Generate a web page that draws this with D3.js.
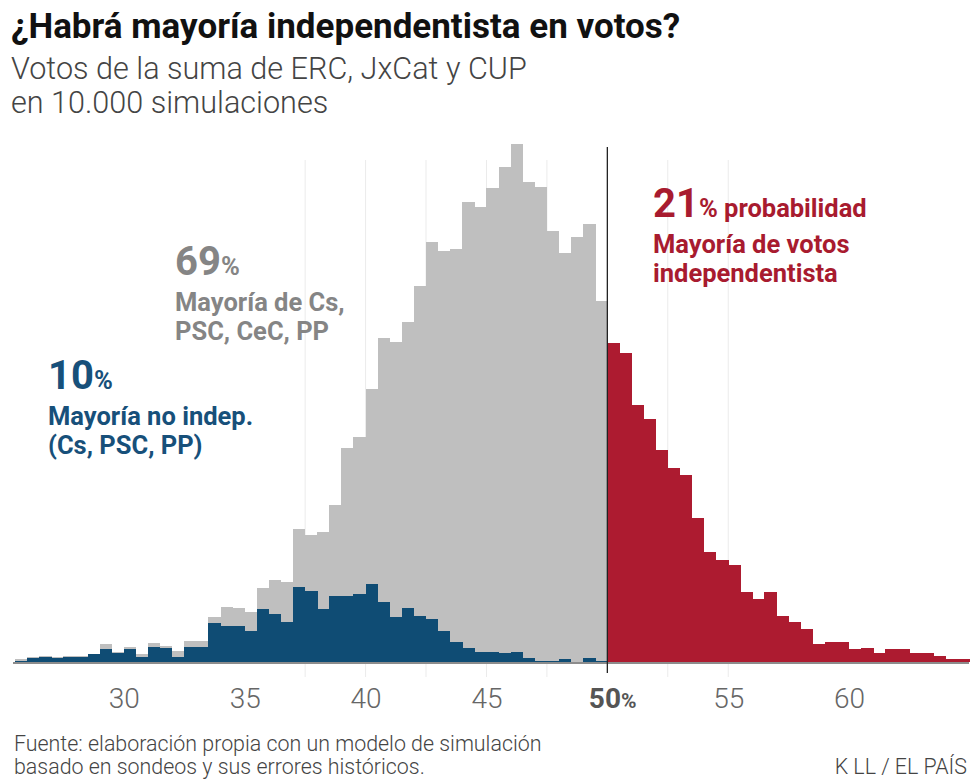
<!DOCTYPE html>
<html>
<head>
<meta charset="utf-8">
<script src="https://cdn.jsdelivr.net/npm/d3@7"></script>
<style>
  html, body { margin: 0; padding: 0; background: #fff; }
  svg { display: block; }
  text { font-family: "Roboto", "Liberation Sans", sans-serif; }
</style>
</head>
<body>
<svg id="chart" width="980" height="783"></svg>
<script>
// ---------- DATA ----------
// Lower edges of the 0.5-point bins below 50 %
const binsBelow = [25.5, 26, 26.5, 27, 27.5, 28, 28.5, 29, 29.5, 30, 30.5, 31, 31.5, 32, 32.5, 33,
  33.5, 34, 34.5, 35, 35.5, 36, 36.5, 37, 37.5, 38, 38.5, 39, 39.5, 40, 40.5, 41, 41.5, 42, 42.5,
  43, 43.5, 44, 44.5, 45, 45.5, 46, 46.5, 47, 47.5, 48, 48.5, 49, 49.5];
// All simulations below 50 % (grey)
const countsBelow = [2, 4, 5, 4, 5, 5, 6, 14, 8, 12, 6, 15, 13, 9, 17, 17,
  36, 44, 43, 40, 59, 65, 64, 106, 101, 104, 125, 171, 179, 218, 258, 255, 271, 300, 335,
  328, 329, 367, 363, 378, 395, 413, 383, 379, 344, 326, 339, 349, 288];
// Of those, simulations with a Cs+PSC+PP majority (blue)
const countsNoIndep = [1, 3, 4, 3, 4, 4, 6, 10, 7, 10, 4, 12, 11, 4, 12, 12,
  31, 29, 29, 25, 42, 38, 32, 60, 57, 42, 53, 53, 54, 62, 48, 36, 43, 37, 34,
  25, 16, 11, 8, 8, 7, 8, 3, 1, 1, 2, 0, 3, 1];
// Lower edges of the bins at or above 50 % (red)
const binsAbove = [50, 50.5, 51, 51.5, 52, 52.5, 53, 53.5, 54, 54.5, 55, 55.5, 56, 56.5, 57, 57.5,
  58, 58.5, 59, 59.5, 60, 60.5, 61, 61.5, 62, 62.5, 63, 63.5, 64, 64.5];
const countsAbove = [254, 246, 205, 194, 169, 155, 149, 115, 88, 81, 77, 56, 50, 56, 37, 32,
  26, 14, 16, 16, 10, 11, 7, 10, 10, 7, 7, 5, 2, 2];
const binWidth = 0.5;

const tickValues = [30, 35, 40, 45, 50, 55, 60];
const tickLabels = ["30", "35", "40", "45", "50", "55", "60"];
const gridValues = [37.5, 40, 42.5, 45, 47.5, 52.5, 55];
const majorityLine = 50;

const titleText = "¿Habrá mayoría independentista en votos?";
const subtitleLines = ["Votos de la suma de ERC, JxCat y CUP", "en 10.000 simulaciones"];
const sourceLines = ["Fuente: elaboración propia con un modelo de simulación",
                     "basado en sondeos y sus errores históricos."];
const creditText = "K LL / EL PAÍS";

const annotations = [
  { big: "69", rest: "%", lines: ["Mayoría de Cs,", "PSC, CeC, PP"], color: "#858585", x: 175, y: 275 },
  { big: "10", rest: "%", lines: ["Mayoría no indep.", "(Cs, PSC, PP)"], color: "#17507a", x: 48, y: 389 },
  { big: "21", rest: "% probabilidad", lines: ["Mayoría de votos", "independentista"], color: "#a81b2f", x: 653, y: 217 }
];

// ---------- COLOURS ----------
const cGrey = "#bfbfbf", cBlue = "#0f4c74", cRed = "#ad1b30";

// ---------- SCALES ----------
const svg = d3.select("#chart");
const baseY = 662;
const x = d3.scaleLinear().domain([25.5, 65]).range([15, 970]);
const y = d3.scaleLinear().domain([0, 413]).range([baseY, 144]);

// ---------- GRID ----------
svg.append("g").selectAll("line").data(gridValues).join("line")
  .attr("x1", d => x(d)).attr("x2", d => x(d))
  .attr("y1", 160).attr("y2", 677)
  .attr("stroke", "#ebebeb").attr("stroke-width", 1);

// ---------- BARS ----------
function bars(cls, bins, counts, color) {
  svg.append("g").attr("class", cls).selectAll("rect")
    .data(bins.map((b, i) => ({ b, v: counts[i] })))
    .join("rect")
    .attr("x", d => x(d.b))
    .attr("width", d => x(d.b + binWidth) - x(d.b) + 0.3)
    .attr("y", d => y(d.v))
    .attr("height", d => baseY - y(d.v))
    .attr("fill", color)
    .attr("shape-rendering", "crispEdges");
}
bars("grey", binsBelow, countsBelow, cGrey);
bars("blue", binsBelow, countsNoIndep, cBlue);
bars("red", binsAbove, countsAbove, cRed);

// ---------- AXIS ----------
svg.append("line")
  .attr("x1", 13).attr("x2", 969).attr("y1", baseY + 1).attr("y2", baseY + 1)
  .attr("stroke", "#8c8c8c").attr("stroke-width", 2);

svg.append("line")
  .attr("x1", x(majorityLine)).attr("x2", x(majorityLine))
  .attr("y1", 147).attr("y2", 673)
  .attr("stroke", "#222").attr("stroke-width", 1.3);

const axis = d3.axisBottom(x).tickValues(tickValues).tickSize(0).tickPadding(0)
  .tickFormat((d, i) => tickLabels[i]);
const gAxis = svg.append("g").attr("transform", `translate(0,${baseY + 46})`).call(axis);
gAxis.select(".domain").remove();
gAxis.selectAll("text")
  .attr("dy", 0).attr("y", 0)
  .style("font-family", "Roboto, sans-serif")
  .style("font-size", "28px").style("font-weight", 300).attr("fill", "#666");
gAxis.selectAll(".tick").filter(d => d === majorityLine).select("text")
  .text(null)
  .call(t => {
    t.append("tspan").text("50").style("font-weight", 700).attr("fill", "#555");
    t.append("tspan").text("%").style("font-size", "21px").style("font-weight", 700).attr("fill", "#555");
  })
  .attr("text-anchor", "start").attr("x", -19);

// ---------- TITLES ----------
svg.append("text").attr("x", 11).attr("y", 38).text(titleText)
  .style("font-size", "35px").style("font-weight", 700).attr("fill", "#111");
svg.append("g").selectAll("text").data(subtitleLines).join("text")
  .attr("x", 11).attr("y", (d, i) => 79 + i * 34).text(d => d)
  .style("font-size", "30.6px").style("font-weight", 300).attr("fill", "#444");

// ---------- ANNOTATIONS ----------
annotations.forEach(a => {
  const g = svg.append("g").attr("fill", a.color);
  const t = g.append("text").attr("x", a.x).attr("y", a.y).style("font-weight", 700);
  t.append("tspan").text(a.big).style("font-size", "40px");
  t.append("tspan").text(a.rest).style("font-size", "25.5px");
  g.selectAll("text.l").data(a.lines).join("text").attr("class", "l")
    .attr("x", a.x).attr("y", (d, i) => a.y + 36 + i * 29)
    .text(d => d).style("font-size", "25.5px").style("font-weight", 700);
});

// ---------- SOURCE ----------
svg.append("g").selectAll("text").data(sourceLines).join("text")
  .attr("x", 14).attr("y", (d, i) => 751 + i * 23).text(d => d)
  .style("font-size", "21.4px").style("font-weight", 300).attr("fill", "#444");
svg.append("text").attr("x", 967).attr("y", 774).attr("text-anchor", "end").text(creditText)
  .style("font-size", "21.4px").style("font-weight", 300).attr("fill", "#444");
</script>
</body>
</html>
